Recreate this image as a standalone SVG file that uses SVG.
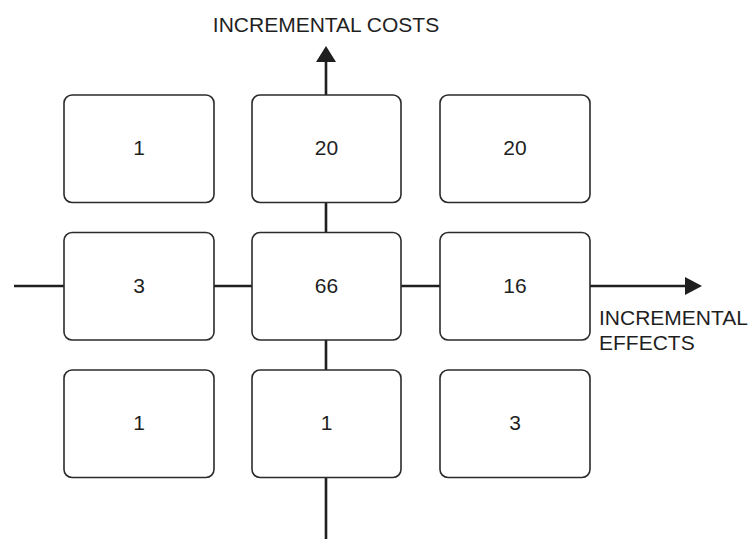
<svg xmlns="http://www.w3.org/2000/svg" width="751" height="539" viewBox="0 0 751 539">
<style>
.box{fill:#fff;stroke:#2b2b2b;stroke-width:1.6}
.axis{stroke:#1f1f1f;stroke-width:2.6;fill:none}
.head{fill:#1f1f1f}
text{font-family:"Liberation Sans",Arial,sans-serif;font-size:21px;fill:#1f1f1f}
.num{text-anchor:middle}
</style>
<rect width="751" height="539" fill="#fff"/>
<g id="connectors">
<line class="axis" x1="326" y1="539" x2="326" y2="60"/>
<polygon class="head" points="326,46 316,62 336,62"/>
<line class="axis" x1="14" y1="286" x2="687" y2="286"/>
<polygon class="head" points="702,286 685,277 685,295"/>
</g>
<g id="n11"><rect class="box" x="64" y="95" width="150" height="107.5" rx="8"/><text class="num" x="139" y="155">1</text></g>
<g id="n12"><rect class="box" x="252" y="95" width="149" height="107.5" rx="8"/><text class="num" x="326.5" y="155">20</text></g>
<g id="n13"><rect class="box" x="440" y="95" width="150" height="107.5" rx="8"/><text class="num" x="515" y="155">20</text></g>
<g id="n21"><rect class="box" x="64" y="232.5" width="150" height="107.5" rx="8"/><text class="num" x="139" y="292.5">3</text></g>
<g id="n22"><rect class="box" x="252" y="232.5" width="149" height="107.5" rx="8"/><text class="num" x="326.5" y="292.5">66</text></g>
<g id="n23"><rect class="box" x="440" y="232.5" width="150" height="107.5" rx="8"/><text class="num" x="515" y="292.5">16</text></g>
<g id="n31"><rect class="box" x="64" y="370" width="150" height="107.5" rx="8"/><text class="num" x="139" y="430">1</text></g>
<g id="n32"><rect class="box" x="252" y="370" width="149" height="107.5" rx="8"/><text class="num" x="326.5" y="430">1</text></g>
<g id="n33"><rect class="box" x="440" y="370" width="150" height="107.5" rx="8"/><text class="num" x="515" y="430">3</text></g>
<g id="labels">
<text x="326" y="32" text-anchor="middle">INCREMENTAL COSTS</text>
<text x="599" y="325">INCREMENTAL</text>
<text x="599" y="350">EFFECTS</text>
</g>
</svg>
